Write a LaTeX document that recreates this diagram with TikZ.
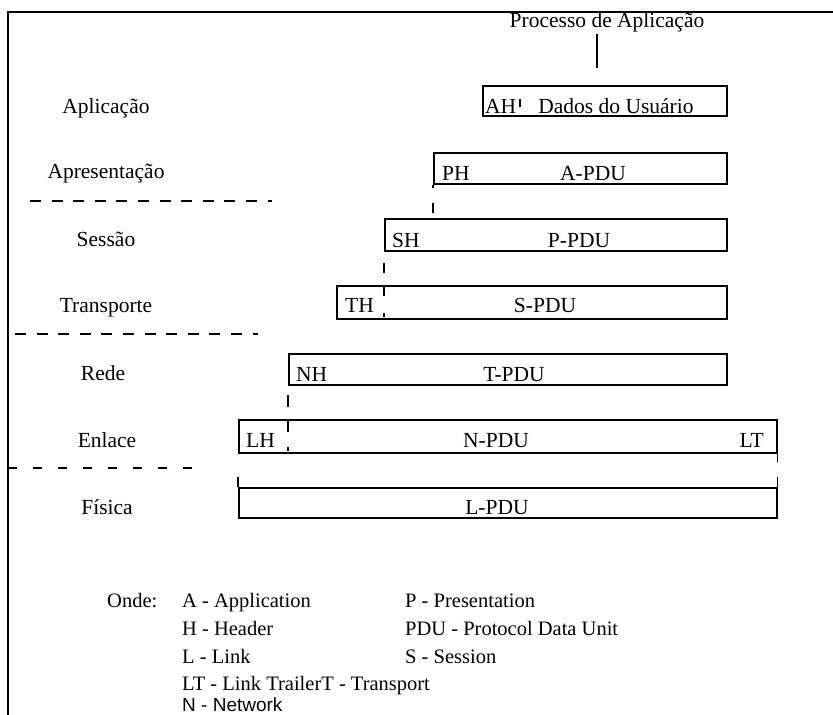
\documentclass[tikz,border=0pt]{standalone}
\usepackage{fontspec}
\setmainfont{Liberation Serif}
\newfontfamily\legendsans{Liberation Sans}
\begin{document}
\begin{tikzpicture}[x=1pt,y=-1pt,
  every node/.style={font=\fontsize{21.5}{25}\selectfont, inner sep=0pt},
  pdubox/.style={draw, line width=1.6pt, rectangle, inner sep=0pt, anchor=north west},
  layer/.style={anchor=base},
  hdr/.style={anchor=base west},
  payload/.style={anchor=base},
  legend/.style={anchor=base west, font=\fontsize{20.5}{24}\selectfont},
  levelsep/.style={line width=1.6pt, dash pattern=on 11pt off 10.6pt},
  lowsep/.style={line width=1.6pt, dash pattern=on 9pt off 16pt},
  tick/.style={line width=1.6pt}]
\useasboundingbox (0,0) rectangle (833,715);

% outer frame (left and top edges)
\draw[line width=2.2pt] (8,715) -- (8,12) -- (833,12);

% application process
\node[payload] (proc) at (607,27) {Processo de Aplicação};
\coordinate (proctop) at (597,34);
\coordinate (procbot) at (597,68);
\draw[tick] (proctop) -- (procbot);

% layer names
\node[layer] (lapp)  at (106,113) {Aplicação};
\node[layer] (lpres) at (106,178) {Apresentação};
\node[layer] (lses)  at (106,246) {Sessão};
\node[layer] (ltra)  at (106,312) {Transporte};
\node[layer] (lnet)  at (103,380) {Rede};
\node[layer] (llnk)  at (107,447) {Enlace};
\node[layer] (lphy)  at (107,514) {Física};

% dashed boundaries between layer groups
\coordinate (s1a) at (30,201);  \coordinate (s1b) at (272,201);
\coordinate (s2a) at (15,334);  \coordinate (s2b) at (258,334);
\coordinate (s3a) at (8,468);   \coordinate (s3b) at (200,468);
\draw[levelsep] (s1a) -- (s1b);
\draw[levelsep] (s2a) -- (s2b);
\draw[lowsep] (s3a) -- (s3b);

% protocol data units
\node[pdubox, minimum width=244pt, minimum height=30pt] (ah) at (482,85) {};
\node[pdubox, minimum width=293pt, minimum height=31pt] (ph) at (433,152) {};
\node[pdubox, minimum width=342pt, minimum height=32pt] (sh) at (384,218) {};
\node[pdubox, minimum width=390pt, minimum height=33pt] (th) at (336,285) {};
\node[pdubox, minimum width=438pt, minimum height=31pt] (nh) at (288,353) {};
\node[pdubox, minimum width=538pt, minimum height=33pt] (lh) at (238,419) {};
\node[pdubox, minimum width=538pt, minimum height=30pt] (lp) at (238,487) {};

% header and payload labels
\node[hdr] (ahh) at (485,113) {AH};
\coordinate (ahsa) at (520,99); \coordinate (ahsb) at (520,107);
\draw[tick, line width=1.2pt] (ahsa) -- (ahsb);
\node[payload] (ahd) at (616,113) {Dados do Usuário};

\node[hdr] (phh) at (442,180) {PH};
\node[payload] (phd) at (593,180) {A-PDU};

\node[hdr] (shh) at (392,247) {SH};
\node[payload] (shd) at (579,247) {P-PDU};

\node[hdr] (thh) at (345,312) {TH};
\node[payload] (thd) at (545,312) {S-PDU};

\node[hdr] (nhh) at (296,381) {NH};
\node[payload] (nhd) at (514,381) {T-PDU};

\node[hdr] (lhh) at (246,447) {LH};
\node[payload] (lhd) at (496,447) {N-PDU};
\node[anchor=base east] (lt) at (764,447) {LT};

\node[payload] (lpd) at (497,514) {L-PDU};

% encapsulation marks
\draw[tick] (ph.south west) -- ++(0,3);
\coordinate (e1a) at (433,203); \coordinate (e1b) at (433,213);
\draw[tick] (e1a) -- (e1b);

\coordinate (e2a) at (384,263); \coordinate (e2b) at (384,273);
\coordinate (e2c) at (384,285); \coordinate (e2d) at (384,296);
\coordinate (e2e) at (384,313); \coordinate (e2f) at (384,317);
\draw[tick] (e2a) -- (e2b);
\draw[tick] (e2c) -- (e2d);
\draw[tick] (e2e) -- (e2f);

\coordinate (e3a) at (288,395); \coordinate (e3b) at (288,407);
\coordinate (e3c) at (288,419); \coordinate (e3d) at (288,432);
\coordinate (e3e) at (288,447); \coordinate (e3f) at (288,451);
\draw[tick] (e3a) -- (e3b);
\draw[tick] (e3c) -- (e3d);
\draw[tick] (e3e) -- (e3f);

\draw[tick] (lh.south east) -- ++(0,8);
\draw[tick] (lp.north west) -- ++(0,-10);
\draw[tick] (lp.north east) -- ++(0,-10);

% legend
\node[legend] (onde) at (107,607) {Onde:};
\node[legend] (ga) at (182,607) {A - Application};
\node[legend] (gp) at (405,607) {P - Presentation};
\node[legend] (gh) at (182,635) {H - Header};
\node[legend] (gpdu) at (405,635) {PDU - Protocol Data Unit};
\node[legend] (gl) at (182,663) {L - Link};
\node[legend] (gs) at (405,663) {S - Session};
\node[legend] (glt) at (182,690) {LT - Link TrailerT - Transport};
\node[legend, font=\legendsans\fontsize{19}{22}\selectfont] (gn) at (182,711) {N - Network};
\end{tikzpicture}
\end{document}
